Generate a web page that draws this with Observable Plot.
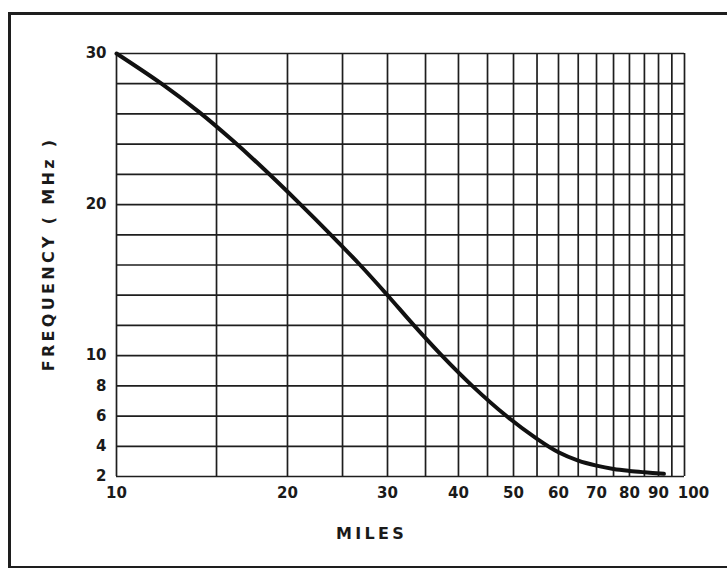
<!DOCTYPE html>
<html>
<head>
<meta charset="utf-8">
<script src="https://cdn.jsdelivr.net/npm/d3@7"></script>
<script src="https://cdn.jsdelivr.net/npm/@observablehq/plot@0.6"></script>
<style>
  html, body { margin: 0; padding: 0; background: #fff; }
  #wrap { position: relative; width: 727px; height: 568px; overflow: hidden; background: #fff; }
  #border { position: absolute; left: 8px; top: 12px; width: 760px; height: 551px;
            border-top: 3px solid #1e1e1e; border-left: 3px solid #1e1e1e; border-bottom: 2px solid #1e1e1e; }
  .title { position: absolute; font-family: "DejaVu Sans", sans-serif; font-weight: bold;
           font-size: 16px; letter-spacing: 3.3px; color: #1a1a1a; white-space: nowrap; }
  #xtitle { left: 336px; top: 524px; }
  #ytitle { left: 48px; top: 254px; transform: translate(-50%, -50%) rotate(-90deg); }
  svg { position: absolute; left: 0; top: 0; }
</style>
</head>
<body>
<div id="wrap">
  <div id="border"></div>
  <div id="chart"></div>
  <div class="title" id="xtitle">MILES</div>
  <div class="title" id="ytitle">FREQUENCY ( MHz )</div>
</div>
<script>
// Curve: distance (miles) vs frequency (MHz)
const miles = [10, 12,   14,   16,    18,   21.1, 23.85, 26.85, 30.0, 33.4, 37.4, 42.3, 48.6, 55,   60,  65,   70,   75,  80,   85,   92];
const freq  = [30, 28.0, 26.1, 24.25, 22.5, 20,   18,    16,    14,   12,   10,   8,    6,    4.49, 3.6, 3.05, 2.72, 2.5, 2.37, 2.28, 2.18];

// Grid and tick values
const xGrid = [10, 15, 20, 25, 30, 35, 40, 45, 50, 55, 60, 65, 70, 75, 80, 85, 90, 95, 100];
const yGrid = [2, 4, 6, 8, 10, 12, 14, 16, 18, 20, 22, 24, 26, 28, 30];
const xTicks = [10, 20, 30, 40, 50, 60, 70, 80, 90];
const xTicksEnd = [100];
const yTicks = [2, 4, 6, 8, 10, 20, 30];

const data = miles.map((m, i) => ({miles: m, freq: freq[i]}));

const tickStyle = {tickSize: 0, tickFormat: d => String(d), label: null, fontSize: 15, fontWeight: "bold", fill: "#1a1a1a"};

const chart = Plot.plot({
  width: 727,
  height: 568,
  marginLeft: 116,
  marginRight: 43,
  marginTop: 53,
  marginBottom: 92,
  style: {background: "transparent", fontFamily: "DejaVu Sans, sans-serif", color: "#1a1a1a", overflow: "visible"},
  x: {type: "log", domain: [10, 100]},
  y: {type: "linear", domain: [2, 30]},
  marks: [
    Plot.ruleX(xGrid, {stroke: "#1e1e1e", strokeWidth: 1.7, strokeOpacity: 1}),
    Plot.ruleY(yGrid, {stroke: "#1e1e1e", strokeWidth: 1.7, strokeOpacity: 1}),
    Plot.axisX({...tickStyle, ticks: xTicks, tickPadding: 11}),
    Plot.axisX({...tickStyle, ticks: xTicksEnd, tickPadding: 11, dx: 9}),
    Plot.axisY({...tickStyle, ticks: yTicks, tickPadding: 10}),
    Plot.line(data, {x: "miles", y: "freq", curve: "catmull-rom", stroke: "#111", strokeWidth: 4, strokeLinecap: "round"})
  ]
});
document.getElementById("chart").appendChild(chart);
</script>
</body>
</html>
